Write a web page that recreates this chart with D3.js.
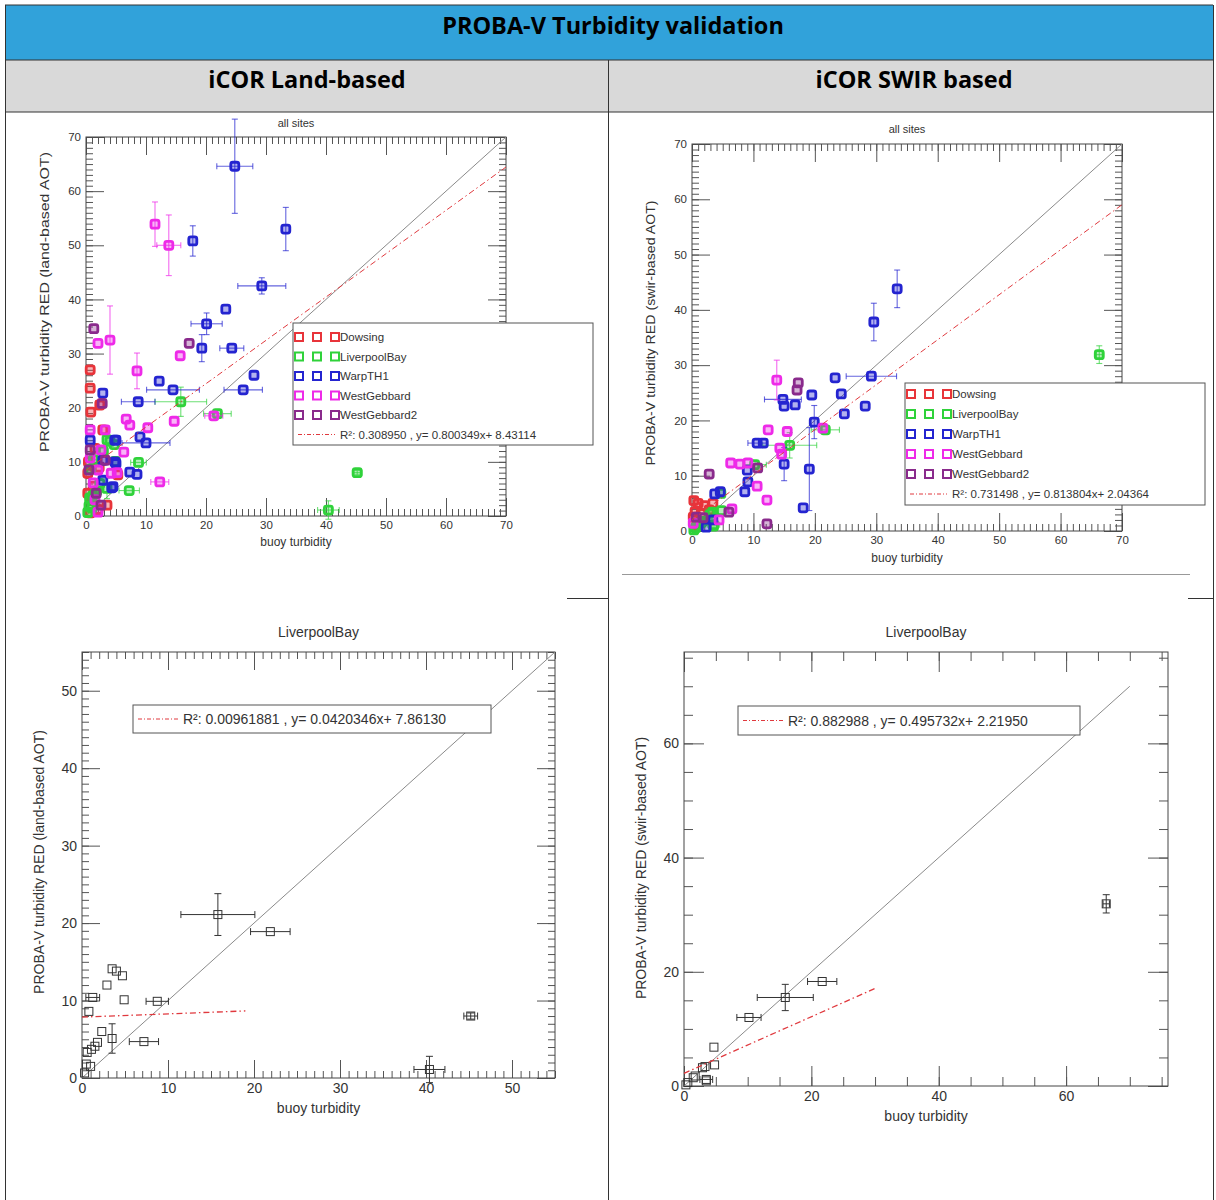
<!DOCTYPE html>
<html>
<head>
<meta charset="utf-8">
<script src="https://cdn.jsdelivr.net/npm/d3@7"></script>
<style>
  body { margin: 0; background: #fff; }
  svg { display: block; }
</style>
</head>
<body>
<div id="chart"></div>
<script>
// ---- data: [buoy, probaV, xErr, yErr] ----
const sites = ["Dowsing", "LiverpoolBay", "WarpTH1", "WestGebbard", "WestGebbard2"];
const siteColors = ["#e8343a", "#2fd23a", "#2424d0", "#ee2ae8", "#8a2a8c"];

const livLand = [
  [15.8, 21.1, 4.3, 2.7], [21.9, 18.9, 2.3, 0], [45.2, 8.0, 0.8, 0.4], [40.4, 1.1, 1.8, 1.7],
  [7.2, 4.7, 1.7, 0], [8.75, 9.9, 1.3, 0], [4.9, 10.1, 0, 0], [2.9, 12.0, 0, 0],
  [3.5, 14.1, 0, 0], [4.0, 13.8, 0, 0], [4.7, 13.2, 0, 0], [1.25, 10.4, 0.8, 0],
  [0.8, 8.6, 0, 0], [3.5, 5.1, 0, 1.9], [2.3, 6.0, 0, 0], [1.8, 4.6, 0, 0],
  [1.5, 4.1, 0, 0], [1.1, 3.7, 0, 0], [0.6, 3.3, 0, 0], [0.5, 1.8, 0, 0],
  [1.0, 1.5, 0, 0], [0.3, 0.65, 0, 0]
];
const livSwir = [
  [66.3, 31.9, 0.5, 1.6], [21.7, 18.3, 2.3, 0], [15.9, 15.5, 4.4, 2.3], [10.2, 12.0, 1.9, 0],
  [4.7, 6.8, 0, 0], [4.8, 3.7, 0, 0], [3.3, 3.4, 0, 0], [2.9, 3.2, 0, 0],
  [1.75, 1.75, 0, 0], [1.45, 1.45, 0, 0], [3.5, 1.15, 1.0, 0], [3.5, 0.9, 0, 0],
  [0.6, 0.6, 0, 0], [0.3, 0.2, 0, 0]
];

const landDowsing = [
  [0.7, 27.0, 0, 0], [0.7, 23.6, 0, 0], [0.8, 19.2, 0, 0], [2.3, 20.5, 0, 0], [2.8, 15.9, 0, 0],
  [1.5, 12.5, 0, 0], [0.4, 10.0, 0, 0], [2.2, 9.0, 0, 0], [0.3, 7.9, 0, 0], [5.3, 7.6, 0, 0],
  [1.2, 5.5, 0, 0], [0.3, 4.2, 0, 0], [0.8, 3.0, 0, 0], [3.5, 2.0, 0, 0], [0.7, 0.6, 0, 0],
  [2.0, 1.2, 0, 0]
];
const landWarp = [
  [24.8, 64.6, 3.0, 8.7], [17.8, 50.8, 0, 2.8], [33.3, 53.0, 0, 4.0], [29.3, 42.5, 4.0, 1.5],
  [23.3, 38.2, 0, 0], [20.1, 35.5, 2.6, 2.0], [19.3, 31.0, 0, 2.5], [24.3, 31.0, 2.0, 0],
  [28.0, 26.0, 0, 0], [26.2, 23.3, 3.2, 0], [14.5, 23.3, 4.4, 0], [12.2, 24.9, 0, 0],
  [8.7, 21.1, 2.8, 0], [9.0, 14.6, 0, 0], [10.0, 13.5, 4.0, 0], [5.0, 14.0, 0, 0],
  [7.3, 8.1, 0, 0], [8.5, 7.7, 0, 0], [5.0, 9.7, 0, 0], [4.3, 5.2, 0, 0],
  [2.8, 22.7, 0, 0], [0.7, 14.0, 0, 0], [4.8, 14.0, 0, 0], [2.8, 10.3, 0, 0],
  [4.8, 10.0, 0, 0], [2.8, 6.6, 0, 0], [4.5, 5.4, 0, 0]
];
const landWestG = [
  [11.5, 53.9, 0, 4.1], [13.8, 50.0, 2.0, 5.6], [2.0, 31.9, 0, 0], [4.0, 32.5, 0, 6.3],
  [15.7, 29.6, 0, 0], [8.5, 26.8, 0, 3.3], [14.7, 17.5, 0, 0], [21.3, 18.5, 1.5, 0],
  [6.7, 17.9, 0, 0], [7.3, 16.8, 0, 0], [10.3, 16.3, 0, 0], [6.3, 11.8, 0, 0],
  [3.2, 15.9, 0, 0], [12.3, 6.3, 1.5, 0], [5.2, 8.0, 0, 0], [0.7, 15.9, 0, 0],
  [2.5, 12.2, 0, 0], [0.7, 10.7, 0, 0], [2.0, 8.5, 0, 0], [4.2, 7.9, 0, 0],
  [1.2, 6.1, 0, 0], [2.0, 0.7, 0, 0], [1.5, 3.0, 0, 0]
];
const landWestG2 = [
  [1.3, 34.6, 0, 0], [17.2, 31.9, 0, 0], [2.7, 20.8, 0, 0], [3.2, 10.3, 0, 0],
  [0.7, 12.2, 0, 0], [1.7, 4.2, 0, 0], [0.5, 8.5, 0, 0], [2.5, 2.0, 0, 0]
];

const swirDowsing = [
  [0.3, 5.5, 0, 0], [1.0, 5.0, 0, 0], [2.0, 4.6, 0, 0], [0.5, 3.5, 0, 0], [1.5, 3.2, 0, 0],
  [2.8, 3.8, 0, 0], [0.2, 2.5, 0, 0], [3.4, 5.0, 0, 0], [1.0, 1.0, 0, 0]
];
const swirWarp = [
  [33.4, 43.8, 0, 3.4], [29.6, 37.8, 0, 3.4], [29.2, 28.0, 4.1, 0], [23.3, 27.7, 0, 0],
  [19.5, 24.6, 0, 0], [24.3, 24.8, 0, 0], [14.8, 23.8, 3.0, 0], [16.8, 22.8, 0, 0],
  [15.0, 22.6, 0, 0], [28.2, 22.6, 0, 0], [24.8, 21.2, 0, 0], [19.9, 19.7, 0, 3.0],
  [19.1, 11.2, 0, 7.5], [18.1, 4.2, 0, 0], [10.6, 15.9, 1.5, 0], [11.6, 15.9, 0, 0],
  [15.0, 12.1, 0, 3.0], [9.0, 11.0, 0, 0], [9.1, 8.9, 0, 0], [8.6, 7.1, 0, 0],
  [4.6, 7.1, 0, 0], [3.7, 6.7, 0, 0], [3.4, 2.0, 0, 0], [2.3, 0.7, 0, 0]
];
const swirWestG = [
  [13.8, 27.3, 0, 3.6], [21.3, 18.6, 0, 0], [12.4, 18.3, 0, 0], [15.5, 18.0, 0, 0],
  [14.3, 15.0, 0, 0], [14.6, 13.9, 0, 0], [6.3, 12.3, 0, 0], [7.8, 12.1, 0, 0],
  [9.1, 12.3, 0, 0], [10.6, 8.1, 0, 0], [12.2, 5.6, 0, 0], [6.5, 4.0, 0, 0],
  [0.2, 1.4, 0, 0], [4.4, 2.0, 0, 0]
];
const swirWestG2 = [
  [17.3, 26.8, 0, 0], [17.1, 25.5, 0, 0], [10.7, 11.4, 0, 0], [2.8, 10.3, 0, 0],
  [12.2, 1.3, 0, 0], [0.7, 2.5, 0, 0], [1.8, 2.4, 0, 0], [6.0, 3.4, 0, 0]
];

// regression: [slope, intercept, R2, xEnd]
const fitLandAll = [0.800349, 8.43114, "0.308950", 70];
const fitSwirAll = [0.813804, 2.04364, "0.731498", 70];
const fitLandLiv = [0.0420346, 7.86130, "0.00961881", 19];
const fitSwirLiv = [0.495732, 2.21950, "0.882988", 30];

const fontPlot = "'Liberation Sans', Arial, Helvetica, sans-serif";
const fontDoc = "'Open Sans', Lato, sans-serif";

const svg = d3.select("#chart").append("svg").attr("width", 1216).attr("height", 1200);
svg.append("rect").attr("width", 1216).attr("height", 1200).attr("fill", "#fff");

// ---- table ----
svg.append("rect").attr("x", 5).attr("y", 5).attr("width", 1208).attr("height", 55).attr("fill", "#31a2da");
svg.append("rect").attr("x", 5).attr("y", 60).attr("width", 1208).attr("height", 52).attr("fill", "#d9d9d9");
const tbl = svg.append("g").attr("stroke", "#333").attr("stroke-width", 1);
[[5, 5, 1213, 5], [5, 60, 1213, 60], [5, 112, 1213, 112],
 [5.5, 5, 5.5, 1200], [1213.5, 5, 1213.5, 1200], [608.5, 60, 608.5, 1200],
 [567, 598.5, 608, 598.5], [1188, 598.5, 1213, 598.5]].forEach(l => {
  tbl.append("line").attr("x1", l[0]).attr("y1", l[1]).attr("x2", l[2]).attr("y2", l[3]);
});
svg.append("line").attr("x1", 622).attr("x2", 1190).attr("y1", 574.5).attr("y2", 574.5)
  .attr("stroke", "#999").attr("stroke-width", 1);

svg.append("text").attr("x", 613).attr("y", 34).attr("text-anchor", "middle")
  .style("font-family", fontDoc).style("font-weight", "bold").style("font-size", "23.5px")
  .text("PROBA-V Turbidity validation");
[["iCOR Land-based", 307], ["iCOR SWIR based", 914]].forEach(([t, cx]) => {
  svg.append("text").attr("x", cx).attr("y", 88).attr("text-anchor", "middle")
    .style("font-family", fontDoc).style("font-weight", "bold").style("font-size", "23.5px").text(t);
});

// ---- panel ----
function drawPanel(p) {
  const x = d3.scaleLinear().domain([0, p.xMax]).range([p.left, p.right]);
  const y = d3.scaleLinear().domain([0, p.yMax]).range([p.bottom, p.top]);
  const g = svg.append("g");

  const axes = [
    [d3.axisBottom, x, p.xMax, `translate(0,${p.bottom})`, true],
    [d3.axisTop, x, p.xMax, `translate(0,${p.top})`, false],
    [d3.axisLeft, y, p.yMax, `translate(${p.left},0)`, true],
    [d3.axisRight, y, p.yMax, `translate(${p.right},0)`, false]
  ];
  axes.forEach(([fn, sc, max, tr, labels]) => {
    g.append("g").attr("transform", tr)
      .call(fn(sc).tickValues(d3.range(0, max + 0.001, p.minor)).tickSize(-p.minorLen).tickFormat(""))
      .call(a => a.select(".domain").remove())
      .selectAll("line").attr("stroke", "#555");
    const ag = g.append("g").attr("transform", tr)
      .call(fn(sc).tickValues(d3.range(0, max + 0.001, p.major)).tickSize(-p.majorLen)
        .tickPadding(p.pad).tickFormat(labels ? d3.format("d") : ""))
      .call(a => a.select(".domain").remove());
    ag.selectAll("line").attr("stroke", "#555");
    ag.selectAll("text").attr("fill", "#333")
      .style("font-family", fontPlot).style("font-size", p.tickFont + "px");
  });

  g.append("rect").attr("x", p.left).attr("y", p.top)
    .attr("width", p.right - p.left).attr("height", p.bottom - p.top)
    .attr("fill", "none").attr("stroke", "#444").attr("stroke-width", 1);

  const txt = (tx, ty, s, size) => g.append("text").attr("x", tx).attr("y", ty)
    .attr("text-anchor", "middle").attr("fill", "#333")
    .style("font-family", fontPlot).style("font-size", size + "px").text(s);
  txt((p.left + p.right) / 2, p.titleY, p.title, p.titleFont);
  txt((p.left + p.right) / 2, p.xlabY, "buoy turbidity", p.labFont);
  const yl = g.append("text").attr("transform", `translate(${p.ylabX},${p.ylabCy}) rotate(-90)`)
    .attr("text-anchor", "middle").attr("fill", "#333")
    .style("font-family", fontPlot).style("font-size", p.labFont + "px").text(p.ylab);
  if (p.ylabLen) yl.attr("textLength", p.ylabLen).attr("lengthAdjust", "spacingAndGlyphs");

  // 1:1 line
  g.append("line").attr("x1", x(0)).attr("y1", y(0)).attr("x2", x(p.oneEnd)).attr("y2", y(p.oneEnd))
    .attr("stroke", "#8a8a8a").attr("stroke-width", 1);

  // points with error bars
  p.series.forEach(s => {
    const sg = g.append("g");
    s.data.forEach(d => {
      const cx = x(d[0]), cy = y(d[1]);
      if (d[2] > 0) {
        const x1 = x(d[0] - d[2]), x2 = x(d[0] + d[2]);
        sg.append("line").attr("x1", x1).attr("x2", x2).attr("y1", cy).attr("y2", cy);
        sg.append("line").attr("x1", x1).attr("x2", x1).attr("y1", cy - p.cap).attr("y2", cy + p.cap);
        sg.append("line").attr("x1", x2).attr("x2", x2).attr("y1", cy - p.cap).attr("y2", cy + p.cap);
      }
      if (d[3] > 0) {
        const y1 = y(d[1] - d[3]), y2 = y(d[1] + d[3]);
        sg.append("line").attr("y1", y1).attr("y2", y2).attr("x1", cx).attr("x2", cx);
        sg.append("line").attr("y1", y1).attr("y2", y1).attr("x1", cx - p.cap).attr("x2", cx + p.cap);
        sg.append("line").attr("y1", y2).attr("y2", y2).attr("x1", cx - p.cap).attr("x2", cx + p.cap);
      }
    });
    sg.selectAll("line").attr("stroke", s.color).attr("stroke-width", p.errW).attr("stroke-opacity", p.errOp);
    sg.selectAll("rect").data(s.data).join("rect")
      .attr("x", d => x(d[0]) - p.mk / 2).attr("y", d => y(d[1]) - p.mk / 2)
      .attr("width", p.mk).attr("height", p.mk).attr("rx", p.rx || 0)
      .attr("fill", s.color).attr("fill-opacity", p.mkFill)
      .attr("stroke", s.color).attr("stroke-width", p.mkW);
  });

  // regression line
  const f = p.fit;
  g.append("path")
    .attr("d", d3.line()([[x(0), y(f[1])], [x(f[3]), y(f[0] * f[3] + f[1])]]))
    .attr("fill", "none").attr("stroke", "#e0393e").attr("stroke-width", p.fitW || 1)
    .attr("stroke-dasharray", "6,3,1.5,3");

  // legend
  const L = p.legend;
  g.append("rect").attr("x", L.x).attr("y", L.y).attr("width", L.w).attr("height", L.h)
    .attr("fill", "#fff").attr("stroke", "#555").attr("stroke-width", 1);
  const fitText = `R²: ${f[2]} , y= ${f[0].toFixed(f[0] < 0.1 ? 7 : 6)}x+ ${f[1].toFixed(5)}`;
  let rowY = L.y + L.first;
  if (L.sites) {
    sites.forEach((s, i) => {
      [0, 1, 2].forEach(k => {
        g.append("rect").attr("x", L.x + 6 + k * 18 - 4).attr("y", rowY - 4).attr("width", 8).attr("height", 8)
          .attr("fill", "#fff").attr("stroke", siteColors[i]).attr("stroke-width", 2);
      });
      g.append("text").attr("x", L.x + 47).attr("y", rowY + 4).attr("fill", "#333")
        .style("font-family", fontPlot).style("font-size", L.font + "px").text(s);
      rowY += L.step;
    });
  }
  g.append("path").attr("d", d3.line()([[L.x + 5, rowY], [L.x + 5 + L.lineLen, rowY]]))
    .attr("stroke", "#e0393e").attr("stroke-width", 1).attr("stroke-dasharray", "4,2,1,2");
  g.append("text").attr("x", L.x + L.lineLen + 10).attr("y", rowY + L.font * 0.36).attr("fill", "#333")
    .style("font-family", fontPlot).style("font-size", L.font + "px").text(fitText);
}

const colorSeries = (arrs) => arrs.map((a, i) => ({ data: a, color: siteColors[i] }));
const topStyle = { minor: 1, major: 10, minorLen: 7, majorLen: 18, pad: 5, tickFont: 11.5,
  titleFont: 11, labFont: 12, mk: 8, mkW: 2.8, rx: 2, mkFill: 0.35, errW: 1.1, errOp: 0.7, cap: 3,
  oneEnd: 70, xMax: 70, yMax: 70 };
const botStyle = { mkFill: 0, mk: 8, mkW: 1, errW: 1, errOp: 1, cap: 3.5, tickFont: 14, titleFont: 14,
  labFont: 14, fitW: 1.3 };

drawPanel(Object.assign({}, topStyle, {
  left: 86, right: 506, top: 137, bottom: 516, titleY: 127, title: "all sites",
  xlabY: 546, ylabX: 49, ylabCy: 302, ylabLen: 300, ylab: "PROBA-V turbidity RED (land-based AOT)",
  series: colorSeries([landDowsing, livLand, landWarp, landWestG, landWestG2]),
  fit: fitLandAll,
  legend: { x: 293, y: 323, w: 300, h: 122, first: 14, step: 19.5, font: 11.5, lineLen: 37, sites: true }
}));

drawPanel(Object.assign({}, topStyle, {
  left: 692, right: 1122, top: 144, bottom: 531, titleY: 133, title: "all sites",
  xlabY: 562, ylabX: 655, ylabCy: 333, ylabLen: 265, ylab: "PROBA-V turbidity RED (swir-based AOT)",
  series: colorSeries([swirDowsing, livSwir, swirWarp, swirWestG, swirWestG2]),
  fit: fitSwirAll,
  legend: { x: 905, y: 383, w: 300, h: 122, first: 11, step: 20, font: 11.5, lineLen: 37, sites: true }
}));

drawPanel(Object.assign({}, botStyle, {
  left: 82, right: 555, top: 652, bottom: 1078, xMax: 55, yMax: 55, minor: 1, major: 10,
  minorLen: 7, majorLen: 18, pad: 5, oneEnd: 55,
  titleY: 637, title: "LiverpoolBay", xlabY: 1113, ylabX: 44, ylabCy: 862,
  ylab: "PROBA-V turbidity RED (land-based AOT)",
  series: [{ data: livLand, color: "#333" }], fit: fitLandLiv,
  legend: { x: 133, y: 705, w: 358, h: 28, first: 14, step: 0, font: 14, lineLen: 40, sites: false }
}));

drawPanel(Object.assign({}, botStyle, {
  left: 684, right: 1168, top: 652, bottom: 1086, xMax: 76, yMax: 76, minor: 5, major: 20,
  minorLen: 9, majorLen: 20, pad: 5, oneEnd: 70,
  titleY: 637, title: "LiverpoolBay", xlabY: 1121, ylabX: 646, ylabCy: 868,
  ylab: "PROBA-V turbidity RED (swir-based AOT)",
  series: [{ data: livSwir, color: "#333" }], fit: fitSwirLiv,
  legend: { x: 738, y: 706, w: 342, h: 29, first: 14.5, step: 0, font: 14, lineLen: 40, sites: false }
}));
</script>
</body>
</html>
